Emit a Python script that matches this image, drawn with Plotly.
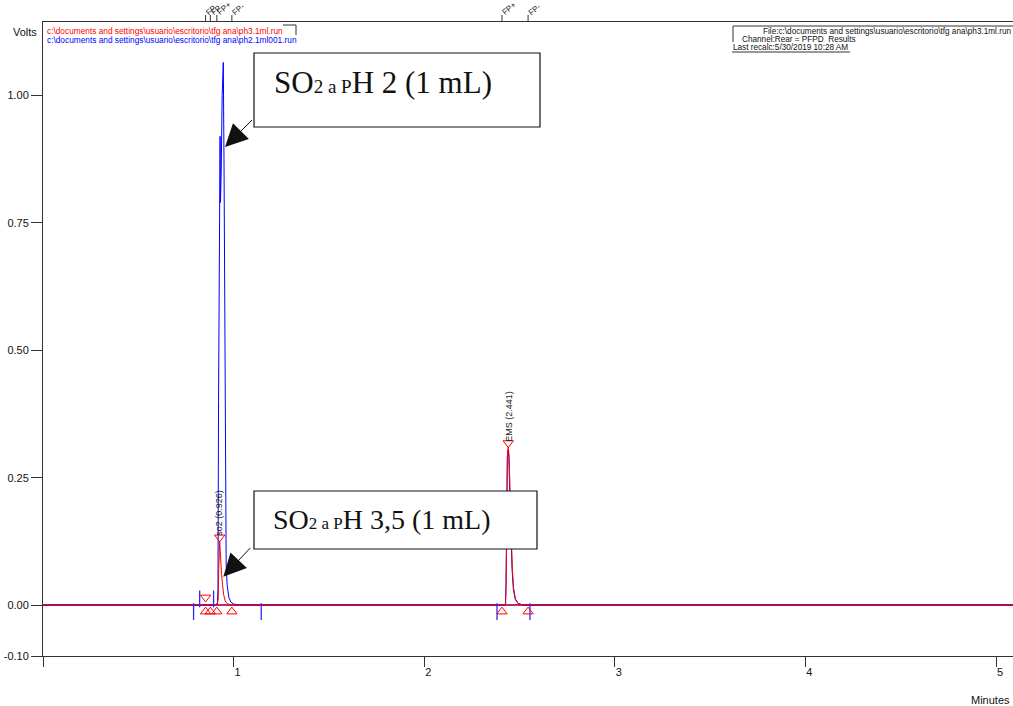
import plotly.graph_objects as go

# ---------------- data ----------------
# pH 2 run (blue): time (min), signal (V)
blue_t = [0.0, 0.90, 0.915, 0.918, 0.921, 0.925, 0.929, 0.931, 0.935, 0.940, 0.946,
          0.950, 0.954, 0.957, 0.961, 0.966, 0.975, 0.985, 1.00, 1.03,
          2.40, 2.426, 2.429, 2.432, 2.436, 2.440, 2.444, 2.449, 2.455, 2.461,
          2.468, 2.478, 2.492, 2.52, 5.09]
blue_v = [0.0, 0.0, 0.002, 0.03, 0.40, 0.85, 0.92, 0.79, 0.85, 1.00, 1.065,
          0.85, 0.45, 0.18, 0.08, 0.04, 0.015, 0.006, 0.002, 0.0,
          0.0, 0.0, 0.04, 0.20, 0.29, 0.305, 0.29, 0.22, 0.12, 0.07,
          0.03, 0.011, 0.003, 0.0, 0.0]

# pH 3,5 run (red)
red_t = [0.0, 0.90, 0.915, 0.919, 0.922, 0.925, 0.927, 0.930, 0.933, 0.937, 0.942,
         0.948, 0.956, 0.966, 0.98, 1.0,
         2.40, 2.427, 2.430, 2.433, 2.437, 2.441, 2.445, 2.450, 2.456, 2.462,
         2.469, 2.479, 2.493, 2.52, 5.09]
red_v = [0.0, 0.0, 0.003, 0.012, 0.07, 0.115, 0.125, 0.105, 0.08, 0.06, 0.04,
         0.02, 0.008, 0.003, 0.001, 0.0,
         0.0, 0.0, 0.04, 0.21, 0.295, 0.31, 0.295, 0.23, 0.13, 0.075,
         0.033, 0.012, 0.003, 0.0, 0.0]

# integration event markers
red_down_t = [0.853, 0.927, 2.441]          # open down-triangles
red_down_v = [0.015, 0.133, 0.318]
red_up_t = [0.853, 0.878, 0.912, 0.991, 2.408, 2.545]   # open up-triangles below baseline
red_up_v = [-0.013, -0.013, -0.013, -0.013, -0.013, -0.013]
blue_bar_t = [0.790, 0.822, 0.895, 1.145, 2.382, 2.555]
blue_bar_v = [-0.013, 0.012, 0.012, -0.013, -0.013, -0.013]

# peak labels
peak_names = ["so2 (0.926)", "EMS (2.441)"]
peak_t = [0.926, 2.441]
peak_v = [0.125, 0.31]

# FP event labels on top
fp_text = ["FP", "FP", "FP+", "FP-", "FP+", "FP-"]
fp_t = [0.853, 0.878, 0.912, 0.991, 2.408, 2.545]

# axis ticks
x_ticks = [0, 1, 2, 3, 4, 5]
x_tick_text = [" ", "1", "2", "3", "4", "5"]
y_ticks = [-0.10, 0.0, 0.25, 0.50, 0.75, 1.00]
y_tick_text = ["-0.10", "0.00", "0.25", "0.50", "0.75", "1.00"]

file_red = "c:\\documents and settings\\usuario\\escritorio\\tfg ana\\ph3.1ml.run"
file_blue = "c:\\documents and settings\\usuario\\escritorio\\tfg ana\\ph2.1ml001.run"

# ---------------- layout geometry ----------------
W, H = 1013, 706
L, R, T, B = 43, 0, 22, 50
PW, PH = W - L - R, H - T - B


def px(x):
    return (x - L) / PW


def py(y):
    return (H - B - y) / PH


AX = "#333333"
SANS = "Liberation Sans, Arial, sans-serif"
SERIF = "Liberation Serif, Times New Roman, serif"


def callout(ph_text, size):
    small = round(size * 0.62)
    return ("SO<span style='font-size:%dpx'>2 a P</span>H %s (1 mL)" % (small, ph_text))


fig = go.Figure()
fig.add_trace(go.Scatter(x=blue_t, y=blue_v, mode="lines",
                         line=dict(color="#0000ff", width=1), hoverinfo="skip"))
fig.add_trace(go.Scatter(x=red_t, y=red_v, mode="lines",
                         line=dict(color="#ff0000", width=1), hoverinfo="skip"))
fig.add_trace(go.Scatter(x=blue_bar_t, y=blue_bar_v, mode="markers",
                         marker=dict(symbol="line-ns-open", size=12, color="#2a2aff",
                                     line=dict(color="#2a2aff", width=1.3)),
                         hoverinfo="skip"))
fig.add_trace(go.Scatter(x=red_down_t, y=red_down_v, mode="markers",
                         marker=dict(symbol="triangle-down-open", size=9,
                                     color="#ff0000", line=dict(width=1)),
                         hoverinfo="skip"))
fig.add_trace(go.Scatter(x=red_up_t, y=red_up_v, mode="markers",
                         marker=dict(symbol="triangle-up-open", size=9,
                                     color="#ff0000", line=dict(width=1)),
                         hoverinfo="skip"))

annotations = []
shapes = []

# peak labels
for name, t, v in zip(peak_names, peak_t, peak_v):
    annotations.append(dict(x=t, y=v, xref="x", yref="y", text=name, showarrow=False,
                            textangle=-90, xanchor="center", yanchor="bottom", yshift=3,
                            font=dict(family=SANS, size=9, color="#222")))

# FP labels + ticks on top edge
for txt, t in zip(fp_text, fp_t):
    annotations.append(dict(x=t, y=1, xref="x", yref="paper", text=txt, showarrow=False,
                            textangle=-40, xanchor="left", yanchor="bottom",
                            xshift=-4, yshift=2,
                            font=dict(family=SANS, size=8, color="#222")))
    shapes.append(dict(type="line", xref="x", yref="paper", x0=t, x1=t,
                       y0=1, y1=py(15), line=dict(color=AX, width=1)))

# top-left file legend
annotations.append(dict(x=px(45), y=py(31), xref="paper", yref="paper", text=file_red,
                        showarrow=False, xanchor="left", yanchor="middle",
                        font=dict(family=SANS, size=8.3, color="#ff0000")))
annotations.append(dict(x=px(45), y=py(40), xref="paper", yref="paper", text=file_blue,
                        showarrow=False, xanchor="left", yanchor="middle",
                        font=dict(family=SANS, size=8.3, color="#0000ff")))
shapes.append(dict(type="line", xref="paper", yref="paper", x0=px(283), x1=px(296),
                   y0=py(25), y1=py(25), line=dict(color=AX, width=1)))
shapes.append(dict(type="line", xref="paper", yref="paper", x0=px(296), x1=px(296),
                   y0=py(25), y1=py(35), line=dict(color=AX, width=1)))

# top-right info box
annotations.append(dict(x=px(1012), y=py(31), xref="paper", yref="paper",
                        text="File:" + file_red, showarrow=False,
                        xanchor="right", yanchor="middle", borderpad=0,
                        font=dict(family=SANS, size=8.2, color="#111")))
annotations.append(dict(x=px(741), y=py(39.5), xref="paper", yref="paper",
                        text="Channel:Rear = PFPD\u00a0\u00a0Results", showarrow=False,
                        xanchor="left", yanchor="middle", borderpad=0,
                        font=dict(family=SANS, size=8.2, color="#111")))
annotations.append(dict(x=px(732), y=py(47.5), xref="paper", yref="paper",
                        text="Last recalc:5/30/2019 10:28 AM", showarrow=False,
                        xanchor="left", yanchor="middle", borderpad=0,
                        font=dict(family=SANS, size=8.2, color="#111")))
shapes.append(dict(type="line", xref="paper", yref="paper", x0=px(733), x1=px(1013),
                   y0=py(26), y1=py(26), line=dict(color=AX, width=1)))
shapes.append(dict(type="line", xref="paper", yref="paper", x0=px(733), x1=px(733),
                   y0=py(26), y1=py(42), line=dict(color=AX, width=1)))
shapes.append(dict(type="line", xref="paper", yref="paper", x0=px(732), x1=px(850),
                   y0=py(52), y1=py(52), line=dict(color=AX, width=1)))

# callout boxes
shapes.append(dict(type="rect", xref="paper", yref="paper", x0=px(254), x1=px(540),
                   y0=py(127), y1=py(53), line=dict(color="#111", width=1.2),
                   fillcolor="white", layer="above"))
shapes.append(dict(type="rect", xref="paper", yref="paper", x0=px(254), x1=px(537),
                   y0=py(549), y1=py(491), line=dict(color="#111", width=1.2),
                   fillcolor="white", layer="above"))
annotations.append(dict(x=px(272), y=py(83), xref="paper", yref="paper",
                        text=callout("2", 31), showarrow=False,
                        xanchor="left", yanchor="middle",
                        font=dict(family=SERIF, size=31, color="#111")))
annotations.append(dict(x=px(271), y=py(519), xref="paper", yref="paper",
                        text=callout("3,5", 28), showarrow=False,
                        xanchor="left", yanchor="middle",
                        font=dict(family=SERIF, size=28, color="#111")))
# arrows
annotations.append(dict(x=0.955, y=0.899, xref="x", yref="y", text=" ", showarrow=True,
                        ax=30, ay=-30, arrowhead=2, arrowsize=4.5, arrowwidth=1,
                        arrowcolor="#111", standoff=0))
annotations.append(dict(x=0.946, y=0.0556, xref="x", yref="y", text=" ", showarrow=True,
                        ax=30, ay=-32, arrowhead=2, arrowsize=4.5, arrowwidth=1,
                        arrowcolor="#111", standoff=0))

# axis titles
annotations.append(dict(x=px(25), y=py(32), xref="paper", yref="paper", text="Volts",
                        showarrow=False, xanchor="center", yanchor="middle",
                        font=dict(family=SANS, size=11, color="#111")))
annotations.append(dict(x=px(1012), y=py(700), xref="paper", yref="paper", text="Minutes",
                        showarrow=False, xanchor="right", yanchor="middle",
                        font=dict(family=SANS, size=11, color="#111")))

fig.update_layout(
    width=W, height=H,
    margin=dict(l=L, r=R, t=T, b=B, pad=0),
    paper_bgcolor="white", plot_bgcolor="white",
    showlegend=False,
    annotations=annotations, shapes=shapes,
    xaxis=dict(range=[0, PW / 190.6], tickvals=x_ticks, ticktext=x_tick_text,
               showgrid=False, zeroline=False, showline=True, linecolor=AX, linewidth=1,
               mirror=True, ticks="outside", ticklen=10, tickcolor=AX, tickwidth=1,
               ticklabelshift=4, ticklabelstandoff=-4,
               tickfont=dict(family=SANS, size=11, color="#111")),
    yaxis=dict(range=[-0.10, -0.10 + PH / 509.5], tickvals=y_ticks, ticktext=y_tick_text,
               showgrid=False, zeroline=True, zerolinecolor="#b03070", zerolinewidth=1.5,
               showline=True, linecolor=AX, linewidth=1,
               ticks="outside", ticklen=11, tickcolor=AX, tickwidth=1,
               layer="above traces",
               tickfont=dict(family=SANS, size=11, color="#111")),
)

fig.write_html("out.html", config={"displayModeBar": False},
               post_script="document.body.style.margin='0';document.body.style.padding='0';")
